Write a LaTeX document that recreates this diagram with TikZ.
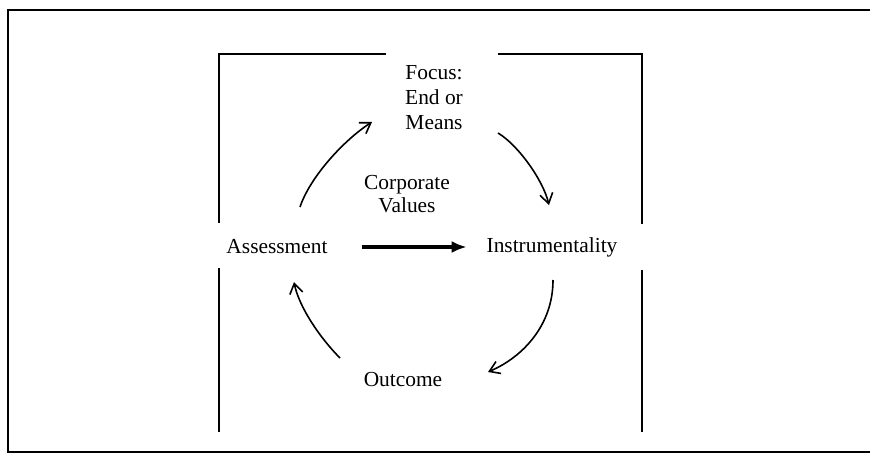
\documentclass[tikz,border=0pt]{standalone}
\usepackage{fontspec}
\setmainfont{Liberation Serif}
\usetikzlibrary{arrows.meta,calc,positioning}

\begin{document}
\begin{tikzpicture}[
  x=0.5pt, y=-0.5pt,
  font=\fontsize{10.7}{12.5}\selectfont,
  cycleLabel/.style={inner sep=0pt, outer sep=0pt, align=center},
  outerLine/.style={line width=1.3pt},
  frameLine/.style={line width=0.9pt},
  cycleArrow/.style={-{Straight Barb[length=5pt,width=6.5pt]}, line width=0.8pt},
  mainArrow/.style={-{Latex[length=7.5pt,width=6pt]}, line width=1.8pt}
]
\useasboundingbox (0,0) rectangle (870,454);

% frames
\draw[outerLine] (870,10) -- (8,10) -- (8,452) -- (870,452);
\draw[frameLine] (386,54) -- (219,54) -- (219,223);
\draw[frameLine] (219,268) -- (219,432);
\draw[frameLine] (498,54) -- (642,54) -- (642,224);
\draw[frameLine] (642,270) -- (642,432);

\node[cycleLabel] (focus) at (434,98) {Focus:\\End or\\Means};
\node[cycleLabel, font=\fontsize{10.7}{11.5}\selectfont] (values) at (407,194) {Corporate\\Values};
\node[cycleLabel] (assess) at (277,247) {Assessment};
\node[cycleLabel] (instr) at (552,247) {Instrumentality};
\node[cycleLabel] (outcome) at (403,380) {Outcome};

\draw[mainArrow, shorten <=17pt, shorten >=10pt] (assess) -- (instr);

\draw[cycleArrow] ($(assess.center)+(23,-40)$) .. controls +(10,-30) and +(-28,18) .. ($(focus.center)+(-62,24)$);
\draw[cycleArrow] ($(focus.center)+(64,35)$) .. controls +(20,12) and +(-6,-25) .. ($(instr.center)+(-3,-42)$);
\draw[cycleArrow] ($(instr.center)+(1,33)$) .. controls +(0,45) and +(35,-15) .. ($(outcome.center)+(85,-8)$);
\draw[cycleArrow] ($(outcome.center)+(-63,-22)$) .. controls +(-20,-20) and +(5,25) .. ($(assess.center)+(17,35)$);
\end{tikzpicture}
\end{document}
